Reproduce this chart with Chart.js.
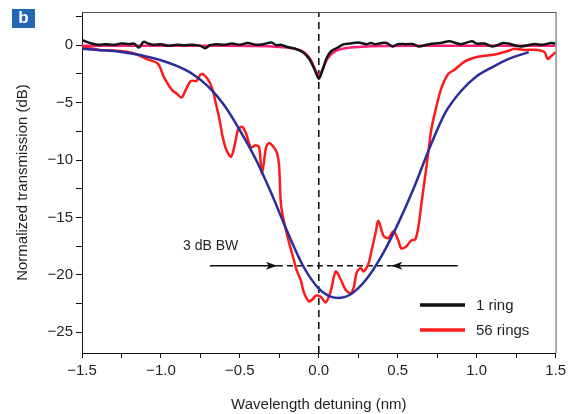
<!DOCTYPE html>
<html><head><meta charset="utf-8">
<script src="https://cdn.jsdelivr.net/npm/chart.js@4.4.1/dist/chart.umd.min.js"></script>
<style>
html,body{margin:0;padding:0;background:#fff;}
#wrap{position:relative;width:570px;height:414px;}
#tag{position:absolute;left:12px;top:9px;width:23px;height:19px;background:#2368b2;color:#fff;font:bold 17px 'Liberation Sans',Arial,sans-serif;text-align:center;line-height:18px;}
</style>
</head><body><div id="wrap"><canvas id="c" width="570" height="414"></canvas><div id="tag">b</div></div>
<script>
// ---------- data ----------
const ringX = [-1.5,-1.47,-1.44,-1.4,-1.35,-1.3,-1.25,-1.2,-1.17,-1.14,-1.11,-1.08,-1.05,-1.0,-0.95,-0.9,-0.85,-0.8,-0.75,-0.72,-0.69,-0.65,-0.6,-0.55,-0.5,-0.45,-0.4,-0.35,-0.3,-0.27,-0.24,-0.2,-0.15,-0.1,-0.06,-0.03,0,0.02,0.05,0.08,0.12,0.16,0.2,0.25,0.3,0.33,0.36,0.4,0.43,0.47,0.5,0.55,0.6,0.63,0.7,0.77,0.83,0.9,0.97,1.0,1.05,1.1,1.17,1.2,1.28,1.36,1.42,1.47,1.5];
const ringY = [0.45,0.3,0.15,0.05,0.1,0.05,0.15,0.1,0.15,-0.2,0.3,0.15,0.05,0.1,-0.05,0.05,0.0,0.05,-0.05,-0.25,0.0,0.1,0.05,0.15,0.05,0.2,0.05,0.1,0.25,0.0,0.05,-0.15,-0.3,-0.6,-1.2,-2.0,-2.9,-2.3,-1.1,-0.5,-0.2,0.1,0.15,0.25,0.1,0.2,0.1,0.2,0.2,-0.1,0.1,0.1,0.1,-0.1,0.1,0.2,0.35,0.1,0.35,0.15,0.15,-0.1,0.2,0.15,-0.1,0.1,0.05,0.2,0.15];

const ringFitX = [-1.5,-0.6,-0.3,-0.2,-0.15,-0.1,-0.07,-0.05,-0.03,-0.015,0,0.015,0.03,0.05,0.07,0.1,0.15,0.2,0.3,0.6,1.5];
const ringFitY = [-0.05,-0.05,-0.1,-0.2,-0.3,-0.55,-0.9,-1.3,-1.9,-2.35,-2.6,-2.35,-1.9,-1.3,-0.9,-0.55,-0.3,-0.2,-0.1,-0.05,-0.05];

const ringsX = [-1.5,-1.45,-1.39,-1.3,-1.26,-1.2,-1.15,-1.09,-1.02,-0.98,-0.93,-0.9,-0.87,-0.84,-0.81,-0.775,-0.745,-0.706,-0.674,-0.65,-0.63,-0.61,-0.586,-0.555,-0.53,-0.51,-0.485,-0.46,-0.43,-0.4,-0.378,-0.36,-0.334,-0.315,-0.284,-0.265,-0.252,-0.24,-0.22,-0.19,-0.158,-0.14,-0.113,-0.095,-0.063,-0.038,-0.019,0.013,0.044,0.076,0.107,0.139,0.17,0.202,0.221,0.24,0.265,0.284,0.315,0.334,0.359,0.378,0.41,0.44,0.473,0.504,0.523,0.555,0.586,0.611,0.63,0.65,0.674,0.693,0.712,0.737,0.775,0.82,0.863,0.926,1.008,1.115,1.197,1.24,1.3,1.386,1.43,1.45,1.468,1.5];
const ringsY = [-0.1,-0.25,-0.4,-0.45,-0.5,-0.6,-0.8,-1.2,-1.6,-2.8,-3.9,-4.2,-4.55,-3.8,-3.1,-3.1,-2.5,-2.9,-3.8,-5.2,-6.4,-7.9,-9.1,-9.7,-8.5,-7.3,-7.1,-7.7,-8.9,-8.7,-8.9,-11.2,-8.9,-8.5,-8.9,-9.4,-10.4,-13.8,-15.4,-17.1,-18.7,-19.6,-20.5,-21.5,-22.3,-22.1,-21.8,-21.9,-22.4,-21.4,-19.7,-20.4,-21.3,-21.6,-21.1,-19.8,-19.4,-19.7,-19.0,-17.9,-16.4,-15.3,-16.6,-16.8,-16.2,-17.0,-17.7,-17.5,-17.0,-16.9,-15.9,-13.8,-11.4,-9.4,-7.4,-5.8,-3.8,-2.5,-2.1,-1.4,-1.0,-0.8,-0.5,-0.3,-0.4,-0.4,-0.6,-1.2,-1.0,-0.6];

const ringsFitX = [-1.5,-1.4,-1.3,-1.2,-1.1,-1.0,-0.9,-0.8,-0.7,-0.6,-0.5,-0.4,-0.3,-0.2,-0.1,0.0,0.06,0.12,0.2,0.3,0.4,0.5,0.6,0.7,0.8,0.9,1.0,1.1,1.2,1.33];
const ringsFitY = [-0.3,-0.4,-0.5,-0.7,-0.95,-1.3,-1.8,-2.5,-3.6,-5.2,-7.4,-9.9,-12.9,-16.2,-19.2,-21.2,-21.8,-22.0,-21.7,-20.4,-18.3,-15.6,-12.5,-9.0,-5.9,-4.0,-2.7,-1.9,-1.2,-0.6];

const xTicks = [-1.5,-1.25,-1.0,-0.75,-0.5,-0.25,0,0.25,0.5,0.75,1.0,1.25,1.5];
const yTicks = [-25,-22.5,-20,-17.5,-15,-12.5,-10,-7.5,-5,-2.5,0,2.5];
const xRange = [-1.5, 1.5];
const yRange = [-26.8, 2.9];

const bwLevel = -19.2;
const bwLeftArrow = [-0.69, -0.265];
const bwRightArrow = [0.88, 0.46];
const bwLabel = {text:'3 dB BW', x:-0.86, y:-17.5};
const centerLine = 0;

const legendLabels = ['1 ring','56 rings'];
const legendColors = ['#111111','#ff1a1a'];

// ---------- chart ----------
const FONT = "'Liberation Sans',Arial,sans-serif";
const TXT = '#231f20';
const pts = (xs, ys) => xs.map((x,i)=>({x, y: ys[i]}));
const minus = s => s.replace('-', '\u2212');

const extras = {
  id:'extras',
  afterDatasetsDraw(chart){
    const {ctx, chartArea:a, scales:{x, y}} = chart;
    ctx.save();
    ctx.strokeStyle = '#555'; ctx.lineWidth = 1;
    ctx.beginPath();
    ctx.moveTo(a.left, a.top+0.5); ctx.lineTo(a.right+0.5, a.top+0.5); ctx.lineTo(a.right+0.5, a.bottom);
    ctx.stroke();
    const head = (tail, tip) => {
      const px = x.getPixelForValue(tip), py = y.getPixelForValue(bwLevel);
      const dir = Math.sign(x.getPixelForValue(tip) - x.getPixelForValue(tail));
      ctx.fillStyle = '#111';
      ctx.beginPath();
      ctx.moveTo(px, py);
      ctx.lineTo(px - dir*11, py - 4);
      ctx.lineTo(px - dir*8, py);
      ctx.lineTo(px - dir*11, py + 4);
      ctx.closePath(); ctx.fill();
    };
    head(bwLeftArrow[0], bwLeftArrow[1]);
    head(bwRightArrow[0], bwRightArrow[1]);
    ctx.fillStyle = TXT; ctx.font = "14px " + FONT;
    ctx.textAlign = 'left'; ctx.textBaseline = 'middle';
    ctx.fillText(bwLabel.text, x.getPixelForValue(bwLabel.x), y.getPixelForValue(bwLabel.y));
    legendLabels.forEach((lab, i) => {
      const ly = 305 + i*25;
      ctx.strokeStyle = legendColors[i]; ctx.lineWidth = 3.5;
      ctx.beginPath(); ctx.moveTo(420, ly); ctx.lineTo(465, ly); ctx.stroke();
      ctx.fillStyle = TXT; ctx.font = "15px " + FONT;
      ctx.fillText(lab, 476, ly + 1);
    });
    ctx.restore();
  }
};

new Chart(document.getElementById('c'), {
  type: 'line',
  data: {
    datasets: [
      {data: pts(ringsFitX, ringsFitY), borderColor:'#2a2d9a', borderWidth:2.5, tension:0.4, cubicInterpolationMode:'monotone', order:0},
      {data: pts(ringsX, ringsY), borderColor:'#ff1a1a', borderWidth:2.5, tension:0.3, order:1},
      {data: pts(ringX, ringY), borderColor:'#151515', borderWidth:2.5, tension:0.3, order:2},
      {data: pts(ringFitX, ringFitY), borderColor:'#ff1f7a', borderWidth:2.5, cubicInterpolationMode:'monotone', order:3},
      {data: [{x:centerLine,y:yRange[0]},{x:centerLine,y:yRange[1]}], borderColor:'#111', borderWidth:1.6, borderDash:[7,5], order:4},
      {data: [{x:bwLeftArrow[1],y:bwLevel},{x:bwRightArrow[1],y:bwLevel}], borderColor:'#111', borderWidth:1.5, borderDash:[6,4], order:4},
      {data: [{x:bwLeftArrow[0],y:bwLevel},{x:bwLeftArrow[1],y:bwLevel}], borderColor:'#111', borderWidth:1.5, order:4},
      {data: [{x:bwRightArrow[0],y:bwLevel},{x:bwRightArrow[1],y:bwLevel}], borderColor:'#111', borderWidth:1.5, order:4}
    ]
  },
  options: {
    responsive:false, animation:false, devicePixelRatio:1,
    elements:{point:{radius:0, hoverRadius:0}},
    layout:{padding:{left:0, right:11, top:11, bottom:0}},
    plugins:{legend:{display:false}, tooltip:{enabled:false}},
    events:[],
    scales:{
      x:{type:'linear', min:xRange[0], max:xRange[1],
        afterBuildTicks: s => { s.ticks = xTicks.map(v=>({value:v})); },
        afterFit: s => { s.height = 61; },
        ticks:{autoSkip:false, maxRotation:0, padding:4, color:TXT, font:{family:FONT, size:15},
          callback: v => Math.abs(v*2 - Math.round(v*2)) < 1e-9 ? minus(v.toFixed(1)) : ''},
        grid:{drawOnChartArea:false, drawTicks:true, tickLength:5, color:'#111'},
        border:{display:true, color:'#111', width:1},
        title:{display:true, text:'Wavelength detuning (nm)', color:TXT, font:{family:FONT, size:15}, padding:{top:4, bottom:0}}
      },
      y:{type:'linear', min:yRange[0], max:yRange[1],
        afterBuildTicks: s => { s.ticks = yTicks.map(v=>({value:v})); },
        afterFit: s => { s.width = 82; },
        ticks:{autoSkip:false, padding:3, color:TXT, font:{family:FONT, size:15},
          callback: v => Math.abs(v/5 - Math.round(v/5)) < 1e-9 ? minus(String(v)) : ''},
        grid:{drawOnChartArea:false, drawTicks:true, tickLength:6, color:'#111'},
        border:{display:true, color:'#111', width:1},
        title:{display:true, text:'Normalized transmission (dB)', color:TXT, font:{family:FONT, size:15}, padding:{top:14, bottom:4}}
      }
    }
  },
  plugins:[extras]
});
</script>
</body></html>
